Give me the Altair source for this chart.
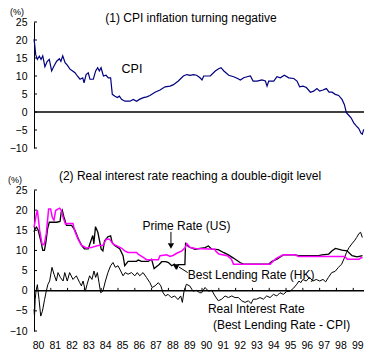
import altair as alt
import pandas as pd

FONT = "Liberation Sans"

# ---------------- data ----------------
cpi_year = [1980.00, 1980.04, 1980.10, 1980.20, 1980.32, 1980.42, 1980.52, 1980.65, 1980.79, 1980.91,
            1981.05, 1981.19, 1981.35, 1981.51, 1981.60, 1981.71, 1981.85, 1981.98, 1982.14, 1982.30,
            1982.44, 1982.58, 1982.74, 1982.90, 1982.98, 1983.10, 1983.23, 1983.33, 1983.53, 1983.67,
            1983.79, 1983.89, 1983.99, 1984.13, 1984.29, 1984.42, 1984.56, 1984.66, 1984.82, 1984.96,
            1985.08, 1985.21, 1985.41, 1985.71, 1985.91, 1986.11, 1986.27, 1986.51, 1986.71, 1986.90,
            1987.20, 1987.50, 1987.80, 1988.10, 1988.30, 1988.59, 1988.89, 1989.09, 1989.29, 1989.49,
            1989.68, 1989.88, 1990.00, 1990.10, 1990.49, 1990.79, 1990.99, 1991.13, 1991.30, 1991.59,
            1991.88, 1992.12, 1992.28, 1992.48, 1992.68, 1992.88, 1993.04, 1993.27, 1993.57, 1993.77,
            1993.87, 1993.97, 1994.27, 1994.46, 1994.66, 1994.90, 1995.16, 1995.46, 1995.65, 1995.81,
            1996.01, 1996.21, 1996.45, 1996.64, 1996.84, 1997.00, 1997.20, 1997.40, 1997.56, 1997.74,
            1997.93, 1998.13, 1998.33, 1998.47, 1998.59, 1998.73, 1998.87, 1999.03, 1999.19, 1999.33,
            1999.46, 1999.54, 1999.62]
cpi_val = [20.2, 18.8, 16.0, 14.6, 15.5, 14.6, 15.6, 12.6, 14.1, 14.6,
           11.4, 12.8, 14.1, 14.8, 14.1, 15.6, 13.7, 13.0, 11.9, 11.4,
           10.9, 10.0, 9.1, 9.5, 8.1, 10.4, 10.9, 9.1, 9.1, 11.4,
           12.3, 11.4, 12.3, 10.0, 10.2, 9.5, 9.5, 4.9, 4.4, 4.0,
           4.4, 3.5, 3.0, 3.0, 3.5, 3.0, 3.5, 4.0, 4.2, 4.6,
           5.5, 6.1, 7.0, 7.2, 7.6, 8.6, 10.0, 10.4, 10.2, 10.4,
           10.2, 9.5, 8.9, 10.0, 10.0, 11.4, 12.0, 12.3, 11.4, 10.2,
           9.8, 9.3, 8.9, 9.5, 9.8, 10.0, 8.6, 8.6, 8.9, 8.6,
           7.2, 8.6, 8.6, 9.8, 9.5, 10.2, 9.5, 9.3, 8.6, 7.0,
           7.2, 6.8, 5.5, 5.8, 6.5, 5.8, 6.1, 6.5, 5.5, 5.5,
           4.9, 4.6, 3.5, 2.1, -0.2, -0.9, -1.6, -3.0, -3.9, -4.6,
           -5.9, -6.2, -4.8]

prime_year = [1980.00, 1980.14, 1980.20, 1980.34, 1980.48, 1980.60, 1980.73, 1980.87, 1980.99, 1981.09,
              1981.19, 1981.29, 1981.39, 1981.53, 1981.63, 1981.73, 1981.88, 1982.02, 1982.32, 1982.42,
              1982.62, 1982.82, 1983.11, 1983.41, 1983.80, 1984.10, 1984.30, 1984.50, 1984.70, 1984.90,
              1985.20, 1985.40, 1985.60, 1986.10, 1986.20, 1986.50, 1986.70, 1987.40, 1987.50, 1987.90,
              1988.10, 1988.30, 1988.50, 1988.80, 1989.00, 1989.10, 1989.30, 1989.60, 1990.77, 1990.80,
              1991.00, 1991.50, 1991.75, 1991.87, 1994.05, 1994.30, 1994.44, 1994.84, 1995.54, 1995.74,
              1998.50, 1998.65, 1999.35, 1999.45, 1999.55]
prime_val = [15.7, 19.0, 20.0, 14.9, 11.6, 11.4, 14.1, 20.3, 20.3, 18.2,
             17.5, 19.9, 20.2, 20.5, 19.9, 18.2, 16.5, 16.7, 16.7, 14.9,
             12.8, 11.3, 10.6, 10.7, 11.2, 11.2, 12.8, 12.8, 11.6, 11.2,
             10.6, 9.9, 9.5, 9.5, 9.1, 8.3, 7.7, 7.7, 8.7, 8.9,
             8.5, 8.8, 9.3, 9.9, 10.7, 11.7, 10.7, 10.5, 10.3, 9.9,
             9.1, 8.7, 7.8, 6.6, 6.6, 7.6, 8.1, 8.9, 8.9, 8.5,
             8.5, 7.8, 7.8, 8.2, 8.2]

blr_year = [1980.00, 1980.07, 1980.15, 1980.25, 1980.42, 1980.52, 1980.62, 1980.71, 1980.81, 1980.91,
            1981.35, 1981.55, 1981.62, 1981.68, 1981.78, 1981.94, 1982.24, 1982.44, 1982.64, 1982.84,
            1983.00, 1983.23, 1983.43, 1983.50, 1983.56, 1983.66, 1983.80, 1984.00, 1984.10, 1984.20,
            1984.40, 1984.56, 1984.65, 1984.80, 1985.10, 1985.30, 1985.40, 1985.60, 1986.10, 1986.20,
            1986.40, 1986.80, 1987.00, 1987.15, 1987.30, 1987.45, 1987.60, 1987.85, 1988.00, 1988.20,
            1988.35, 1988.50, 1988.60, 1988.98, 1989.02, 1989.20, 1989.58, 1990.18, 1990.38, 1990.58,
            1990.97, 1991.27, 1991.57, 1991.87, 1992.26, 1992.46, 1993.96, 1994.16, 1994.46, 1994.84,
            1995.54, 1995.74, 1996.94, 1997.14, 1997.54, 1997.74, 1997.94, 1998.33, 1998.63, 1998.93,
            1999.23, 1999.55]
blr_val = [14.6, 15.4, 15.8, 15.0, 12.1, 10.0, 10.0, 12.1, 15.4, 17.0,
           17.0, 17.2, 19.5, 20.0, 18.3, 16.2, 16.2, 15.0, 12.9, 11.2,
           10.4, 10.4, 12.9, 13.7, 11.6, 15.9, 14.5, 10.3, 9.9, 12.4,
           13.4, 13.6, 12.0, 11.2, 10.4, 8.7, 6.2, 7.3, 7.3, 7.6,
           7.3, 7.3, 7.8, 5.5, 6.0, 6.5, 7.2, 7.2, 7.0, 6.2,
           6.6, 5.5, 6.5, 6.5, 11.7, 10.9, 10.3, 10.7, 11.1, 10.3,
           10.2, 9.5, 8.9, 8.1, 7.0, 6.6, 6.6, 7.3, 7.8, 8.9,
           8.9, 8.7, 8.7, 8.9, 9.1, 9.9, 10.5, 10.1, 9.9, 8.7,
           8.4, 8.7]

real_year = [1980.00, 1980.03, 1980.07, 1980.12, 1980.20, 1980.30, 1980.40, 1980.50, 1980.63, 1980.73,
             1980.83, 1980.93, 1981.07, 1981.19, 1981.33, 1981.43, 1981.57, 1981.73, 1981.83, 1981.98,
             1982.12, 1982.32, 1982.52, 1982.72, 1982.82, 1982.92, 1983.06, 1983.16, 1983.31, 1983.45,
             1983.57, 1983.67, 1983.77, 1983.87, 1983.97, 1984.10, 1984.25, 1984.40, 1984.56, 1984.70,
             1984.84, 1985.00, 1985.16, 1985.30, 1985.43, 1985.60, 1985.80, 1986.00, 1986.15, 1986.29,
             1986.49, 1986.69, 1986.90, 1987.03, 1987.20, 1987.40, 1987.55, 1987.68, 1987.82, 1987.98,
             1988.17, 1988.37, 1988.57, 1988.73, 1988.83, 1988.93, 1989.07, 1989.27, 1989.46, 1989.66,
             1989.86, 1989.98, 1990.18, 1990.38, 1990.58, 1990.77, 1990.97, 1991.17, 1991.37, 1991.57,
             1991.77, 1991.96, 1992.16, 1992.36, 1992.56, 1992.76, 1992.92, 1993.05, 1993.25, 1993.45,
             1993.65, 1993.85, 1994.05, 1994.25, 1994.45, 1994.64, 1994.84, 1995.04, 1995.24, 1995.44,
             1995.64, 1995.77, 1995.88, 1996.00, 1996.20, 1996.40, 1996.60, 1996.80, 1997.00, 1997.20,
             1997.36, 1997.52, 1997.72, 1997.92, 1998.12, 1998.31, 1998.47, 1998.60, 1998.75, 1998.91,
             1999.07, 1999.20, 1999.34, 1999.44, 1999.54]
real_val = [-4.6, -6.3, -2.2, -0.1, 1.5, -2.2, -6.3, -5.1, -2.2, -0.1,
            1.6, 2.4, 5.8, 4.1, 2.4, 4.5, 3.3, 2.4, 4.5, 2.4,
            4.5, 2.8, 3.7, 2.0, 1.2, 2.4, -0.1, 1.6, 3.7, 2.8,
            4.9, 3.3, 4.5, 2.0, -0.5, -0.1, 2.4, 4.5, 6.2, 7.0,
            5.8, 6.2, 4.9, 3.7, 4.5, 4.1, 4.5, 3.7, 4.5, 3.7,
            4.5, 3.3, 2.0, 0.8, 1.2, 2.0, 1.2, -0.5, -1.3, -0.9,
            -1.7, -1.3, -2.2, -1.3, -2.9, -0.1, 1.6, 1.2, -0.1, 0.1,
            -0.5, -0.5, 0.8, -0.1, 0.1, -1.3, -2.5, -2.1, -1.3, -1.7,
            -1.3, -1.7, -1.7, -2.5, -2.9, -2.5, -3.2, -2.1, -2.1, -1.7,
            -2.1, -1.3, -1.7, -0.9, -1.3, -0.5, -0.9, -0.2, -0.1, 0.6,
            1.6, 2.4, 2.0, 2.8, 2.4, 3.3, 2.4, 2.8, 2.4, 2.8,
            2.2, 3.3, 4.5, 4.8, 5.8, 6.6, 8.1, 9.5, 10.7, 11.6,
            12.4, 13.2, 14.2, 14.5, 13.2]

y_ticks = [-10, -5, 0, 5, 10, 15, 20, 25]
year_ticks = list(range(1980, 2000))

# annotation texts (position in data units)
ann_text = ["Prime Rate (US)", "Best Lending Rate (HK)", "Real Interest Rate", "(Best Lending Rate - CPI)"]
ann_year = [1986.45, 1989.15, 1990.35, 1990.65]
ann_val = [16.0, 3.9, -4.6, -8.6]

# ---------------- scales / axes ----------------
XDOM = [1980, 1999.64]
xs = alt.Scale(domain=XDOM, nice=False, zero=False)
ys = alt.Scale(domain=[-10, 25], nice=False, zero=False)
W = 330


def y_axis():
    return alt.Axis(values=y_ticks, title=None, grid=False, ticks=False,
                    domainColor="black", domainWidth=1, labelOverlap=False,
                    labelFont=FONT, labelFontSize=10.5, labelColor="black",
                    labelPadding=7, labelFlush=False)


def inner_ticks():
    return alt.Chart(pd.DataFrame({"t": y_ticks})).mark_rule(color="black", strokeWidth=1).encode(
        y=alt.Y("t:Q", scale=ys, axis=y_axis()), x=alt.value(0), x2=alt.value(3))


def zero_line():
    return alt.Chart(pd.DataFrame({"z": [0]})).mark_rule(color="black", strokeWidth=1.5).encode(
        y=alt.Y("z:Q", scale=ys, axis=y_axis()))


def label(text, x, y, size=11, align="center"):
    return alt.Chart(pd.DataFrame({"t": [text]})).mark_text(
        font=FONT, fontSize=size, align=align, baseline="middle", color="black").encode(
        x=alt.value(x), y=alt.value(y), text="t:N")


# ---------------- top panel ----------------
cpi_df = pd.DataFrame({"year": cpi_year, "cpi": cpi_val})
cpi_line = alt.Chart(cpi_df).mark_line(color="#000080", strokeWidth=1.2).encode(
    x=alt.X("year:Q", scale=xs, axis=None),
    y=alt.Y("cpi:Q", scale=ys, axis=y_axis()))

cpi_lab = alt.Chart(pd.DataFrame({"t": ["CPI"], "x": [1985.83], "y": [11.9]})).mark_text(
    font=FONT, fontSize=12.5, align="center", baseline="middle", color="black").encode(
    x=alt.X("x:Q", scale=xs, axis=None), y=alt.Y("y:Q", scale=ys, axis=y_axis()), text="t:N")

top = alt.layer(
    inner_ticks(), zero_line(), cpi_line, cpi_lab,
    label("(1)   CPI inflation turning negative", 157, -4, size=12),
    label("(%)", -17, -10, size=9),
).properties(width=W, height=126)

# ---------------- bottom panel ----------------
prime_df = pd.DataFrame({"year": prime_year, "v": prime_val})
blr_df = pd.DataFrame({"year": blr_year, "v": blr_val})
real_df = pd.DataFrame({"year": real_year, "v": real_val})


def x_axis():
    return alt.Axis(
        values=year_ticks, title=None, grid=False, ticks=False, domain=False,
        labelExpr="substring(toString(datum.value), 2, 4)", labelOverlap=False,
        labelFont=FONT, labelFontSize=10.5, labelColor="black",
        labelPadding=9, labelOffset=4, labelFlush=False)


def X(field):
    return alt.X(field, scale=xs, axis=x_axis())


def Y(field):
    return alt.Y(field, scale=ys, axis=y_axis())


real_line = alt.Chart(real_df).mark_line(color="black", strokeWidth=1).encode(
    x=X("year:Q"), y=Y("v:Q"))
blr_line = alt.Chart(blr_df).mark_line(color="black", strokeWidth=1.3).encode(
    x=X("year:Q"), y=Y("v:Q"))
prime_line = alt.Chart(prime_df).mark_line(color="#FF00FF", strokeWidth=1.5).encode(
    x=X("year:Q"), y=Y("v:Q"))

zero_ticks = alt.Chart(pd.DataFrame({"yr": year_ticks[1:]})).transform_calculate(
    z0="0", z1="0.7").mark_rule(color="black").encode(
    x=X("yr:Q"), y=Y("z0:Q"), y2="z1:Q")

ann_df = pd.DataFrame({"t": ann_text, "x": ann_year, "y": ann_val})
ann = alt.Chart(ann_df).mark_text(font=FONT, fontSize=12, align="left", baseline="middle",
                                  color="black").encode(
    x=X("x:Q"), y=Y("y:Q"), text="t:N")

arrow_df = pd.DataFrame({"x": [1988.15, 1989.15], "x2": [1988.15, 1988.62],
                         "y": [14.6, 4.5], "y2": [11.8, 5.9]})
arrow_lines = alt.Chart(arrow_df).mark_rule(color="black", strokeWidth=1).encode(
    x=X("x:Q"), x2="x2:Q", y=Y("y:Q"), y2="y2:Q")
head_df = pd.DataFrame({"x": [1988.15, 1988.45], "y": [11.1, 5.9]})
heads = alt.Chart(head_df).mark_point(shape="triangle-down", filled=True, color="black",
                                      opacity=1, size=40).encode(
    x=X("x:Q"), y=Y("y:Q"))

bottom_zero = alt.Chart(pd.DataFrame({"z": [0]})).mark_rule(color="black", strokeWidth=1.5).encode(
    y=Y("z:Q"))
bottom_ticks = alt.Chart(pd.DataFrame({"t": y_ticks})).mark_rule(color="black", strokeWidth=1).encode(
    y=Y("t:Q"), x=alt.value(0), x2=alt.value(3))

bottom = alt.layer(
    bottom_ticks, bottom_zero, zero_ticks, real_line, blr_line, prime_line,
    ann, arrow_lines, heads,
    label("(2)  Real interest rate reaching a double-digit level", 156, -14, size=12),
    label("(%)", -19, -10, size=9),
).properties(width=W, height=141)

chart = alt.vconcat(top, bottom, spacing=16).properties(
    padding={"left": 0, "top": 0, "right": 0, "bottom": 0}
).configure_view(stroke=None).configure_concat(spacing=16).configure_axis(labelOverlap=False)

chart.save("out.html", embed_options={"renderer": "svg", "actions": False})
